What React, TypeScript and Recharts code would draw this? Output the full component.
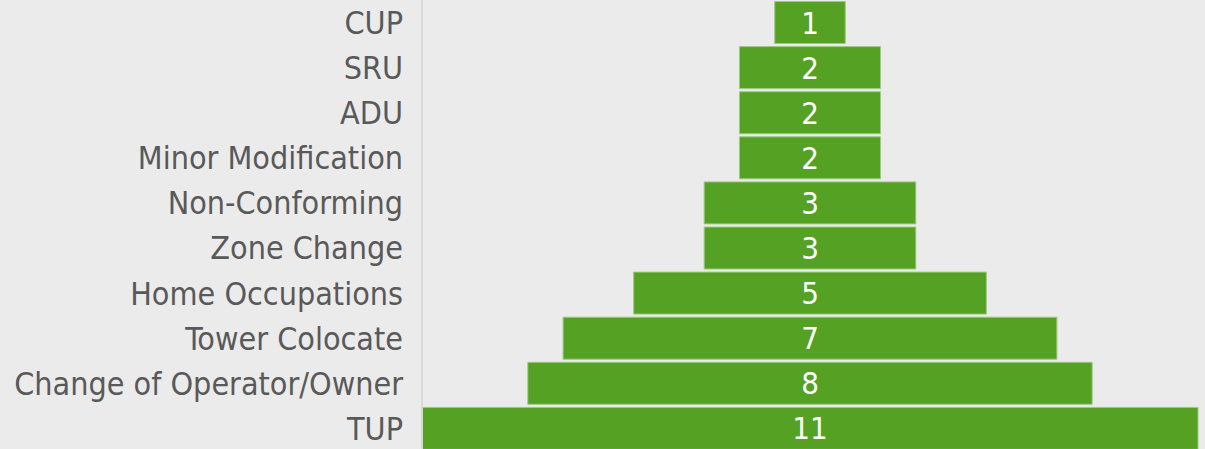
import React from "react";
import { BarChart, Bar, XAxis, YAxis, LabelList } from "recharts";

const categories = [
  "CUP",
  "SRU",
  "ADU",
  "Minor Modification",
  "Non-Conforming",
  "Zone Change",
  "Home Occupations",
  "Tower Colocate",
  "Change of Operator/Owner",
  "TUP",
];
const counts = [1, 2, 2, 2, 3, 3, 5, 7, 8, 11];
const maxCount = 11;

const data = categories.map((name, i) => ({
  name,
  offset: (maxCount - counts[i]) / 2,
  value: counts[i],
}));

const FONT = "'DejaVu Sans Condensed', 'DejaVu Sans', sans-serif";

export default function App() {
  return (
    <div style={{ position: "absolute", left: 0, top: 0, width: 1205, height: 449, overflow: "hidden", background: "#ebebeb" }}>
      <BarChart
        width={1205}
        height={451}
        data={data}
        layout="vertical"
        margin={{ top: 0, right: 7, left: 0, bottom: 0 }}
        barCategoryGap={1.5}
      >
        <XAxis type="number" hide domain={[0, maxCount]} />
        <YAxis
          type="category"
          dataKey="name"
          width={422}
          tickLine={false}
          tickSize={0}
          tickMargin={19}
          axisLine={{ stroke: "#d9d9d9", strokeWidth: 2 }}
          tick={{ fill: "#595959", fontSize: 32, fontFamily: FONT }}
          interval={0}
        />
        <Bar dataKey="offset" stackId="a" fill="transparent" isAnimationActive={false} />
        <Bar dataKey="value" stackId="a" fill="#55a124" stroke="#9ccb80" strokeWidth={1} isAnimationActive={false}>
          <LabelList dataKey="value" position="center" fill="#ffffff" fontSize={31} fontFamily={FONT} />
        </Bar>
      </BarChart>
    </div>
  );
}
